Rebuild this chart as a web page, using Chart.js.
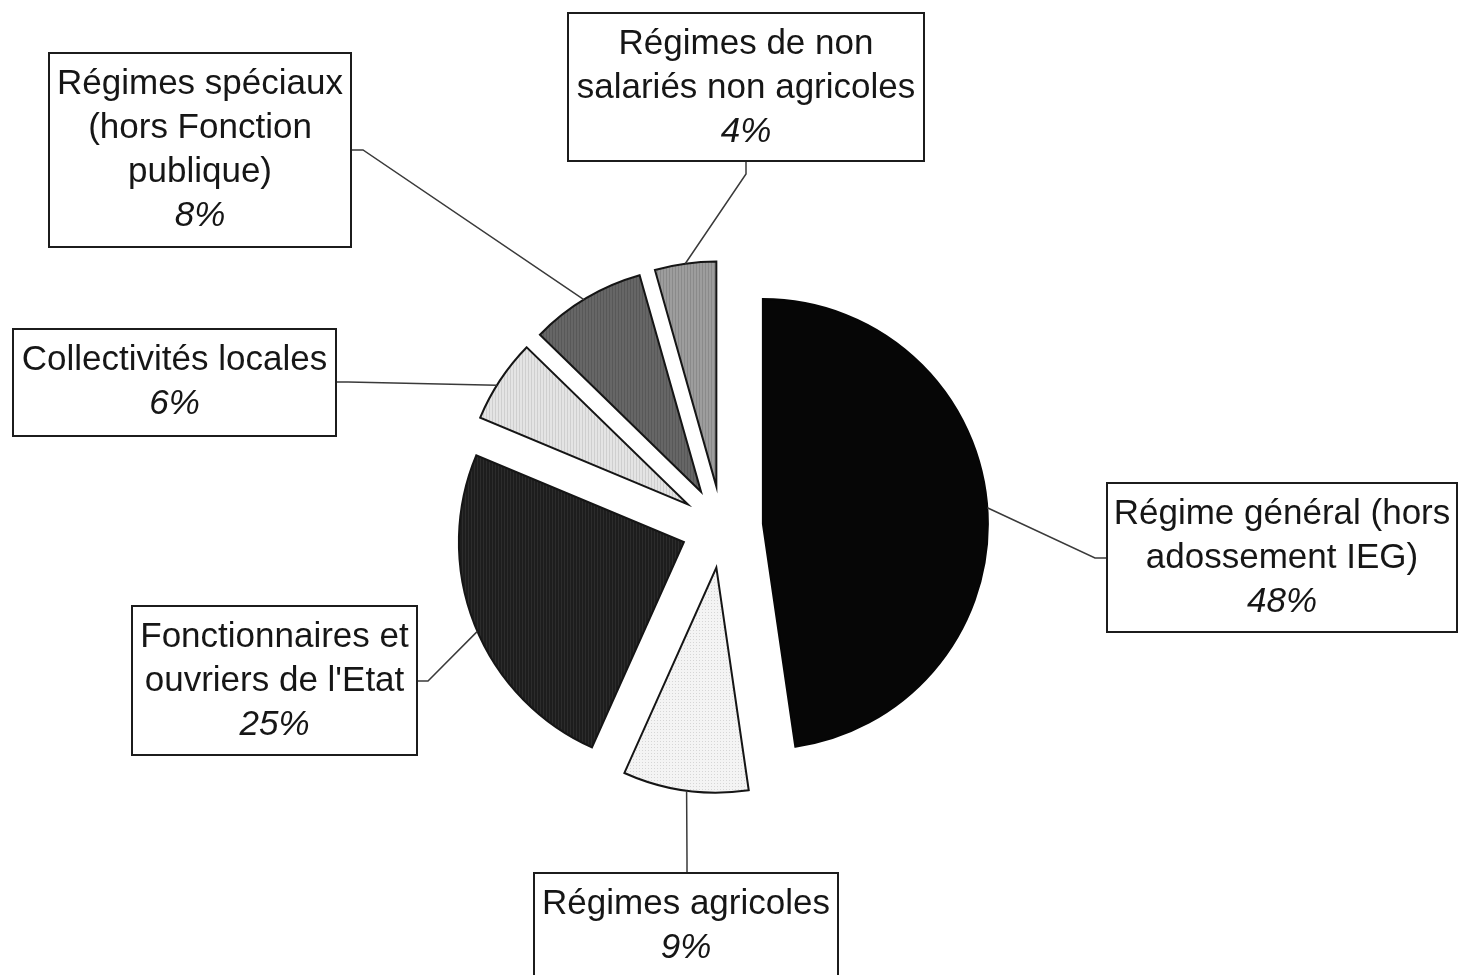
<!DOCTYPE html>
<html>
<head>
<meta charset="utf-8">
<script src="https://cdn.jsdelivr.net/npm/chart.js@4.4.0/dist/chart.umd.min.js"></script>
<style>
  html, body { margin: 0; background: #fff; }
  #wrap { width: 1458px; height: 975px; }
</style>
</head>
<body>
<div id="wrap"><canvas id="pieChart"></canvas></div>
<script>
// données (sens horaire depuis midi)
const categories = [
  'Régime général (hors adossement IEG)',
  'Régimes agricoles',
  "Fonctionnaires et ouvriers de l'Etat",
  'Collectivités locales',
  'Régimes spéciaux (hors Fonction publique)',
  'Régimes de non salariés non agricoles'
];
// angles mesurés sur les parts
const shares = [47.7, 9.0, 24.6, 6.0, 8.3, 4.4];
const shareLabels = ['48%', '9%', '25%', '6%', '8%', '4%'];
// découpage des libellés dans les encadrés
const labelLines = [
  ['Régime général (hors', 'adossement IEG)'],
  ['Régimes agricoles'],
  ['Fonctionnaires et', "ouvriers de l'Etat"],
  ['Collectivités locales'],
  ['Régimes spéciaux', '(hors Fonction', 'publique)'],
  ['Régimes de non', 'salariés non agricoles']
];

// mise en page des encadrés et des traits de rappel
const EXPLODE = 41;
const labelLayout = [
  { box: [1107, 483, 350, 149], attach: [1107, 558], elbow: [1095, 558], frac: 0.5 },
  { box: [534, 873, 304, 120], attach: [687, 873], elbow: [687, 860], frac: 0.49 },
  { box: [132, 606, 285, 149], attach: [417, 681], elbow: [428, 681], frac: 0.48 },
  { box: [13, 329, 323, 107], attach: [336, 382], elbow: [348, 382], frac: 0.43 },
  { box: [49, 53, 302, 194], attach: [351, 150], elbow: [363, 150], frac: 0.48 },
  { box: [568, 13, 356, 148], attach: [746, 161], elbow: [746, 174], frac: 0.5 }
];

const canvas = document.getElementById('pieChart');
const ctx = canvas.getContext('2d');

// petites trames (rayures verticales / points)
function stripes(base, line) {
  const c = document.createElement('canvas');
  c.width = 3; c.height = 3;
  const g = c.getContext('2d');
  g.fillStyle = base; g.fillRect(0, 0, 3, 3);
  g.fillStyle = line; g.fillRect(0, 0, 1, 3);
  return ctx.createPattern(c, 'repeat');
}
function dots(base, dot) {
  const c = document.createElement('canvas');
  c.width = 3; c.height = 3;
  const g = c.getContext('2d');
  g.fillStyle = base; g.fillRect(0, 0, 3, 3);
  g.fillStyle = dot; g.fillRect(0, 0, 1, 1);
  return ctx.createPattern(c, 'repeat');
}

const fills = [
  '#060606',
  dots('#f4f4f4', '#d6d6d6'),
  stripes('#1d1d1d', '#2c2c2c'),
  stripes('#e4e4e4', '#cfcfcf'),
  stripes('#666666', '#585858'),
  stripes('#9d9d9d', '#8a8a8a')
];
const borders = ['#060606', '#151515', '#151515', '#151515', '#151515', '#151515'];

// camembert éclaté : chaque part décalée le long de sa bissectrice
const explodedPie = {
  id: 'explodedPie',
  beforeDatasetDraw(chart, args) {
    const c = chart.ctx;
    args.meta.data.forEach((arc) => {
      const p = arc.getProps(['x', 'y', 'startAngle', 'endAngle', 'outerRadius'], true);
      const mid = (p.startAngle + p.endAngle) / 2;
      const cx = p.x + Math.cos(mid) * EXPLODE;
      const cy = p.y + Math.sin(mid) * EXPLODE;
      c.save();
      c.beginPath();
      c.moveTo(cx, cy);
      c.arc(cx, cy, p.outerRadius, p.startAngle, p.endAngle);
      c.closePath();
      c.fillStyle = arc.options.backgroundColor;
      c.fill();
      c.lineWidth = arc.options.borderWidth;
      c.strokeStyle = arc.options.borderColor;
      c.lineJoin = 'miter';
      c.stroke();
      c.restore();
    });
    return false;
  },
  afterDraw(chart) {
    const c = chart.ctx;
    const arcs = chart.getDatasetMeta(0).data;
    c.save();
    // traits de rappel
    arcs.forEach((arc, i) => {
      const L = labelLayout[i];
      const p = arc.getProps(['x', 'y', 'startAngle', 'endAngle', 'outerRadius'], true);
      const mid = (p.startAngle + p.endAngle) / 2;
      const a = p.startAngle + (p.endAngle - p.startAngle) * L.frac;
      const cx = p.x + Math.cos(mid) * EXPLODE;
      const cy = p.y + Math.sin(mid) * EXPLODE;
      const tx = cx + Math.cos(a) * p.outerRadius;
      const ty = cy + Math.sin(a) * p.outerRadius;
      c.beginPath();
      c.moveTo(L.attach[0], L.attach[1]);
      c.lineTo(L.elbow[0], L.elbow[1]);
      c.lineTo(tx, ty);
      c.strokeStyle = '#3a3a3a';
      c.lineWidth = 1.5;
      c.stroke();
    });
    // encadrés
    arcs.forEach((arc, i) => {
      const [bx, by, bw, bh] = labelLayout[i].box;
      c.fillStyle = '#fff';
      c.fillRect(bx, by, bw, bh);
      c.strokeStyle = '#1c1c1c';
      c.lineWidth = 2;
      c.strokeRect(bx, by, bw, bh);
      const lines = labelLines[i].concat([shareLabels[i]]);
      c.fillStyle = '#161616';
      c.textAlign = 'center';
      c.textBaseline = 'middle';
      lines.forEach((t, k) => {
        const last = k === lines.length - 1;
        c.font = (last ? 'italic ' : '') + "35px 'Liberation Sans', Arial, sans-serif";
        c.fillText(t, bx + bw / 2, by + 31 + k * 44);
      });
    });
    c.restore();
  }
};

const chart = new Chart(ctx, {
  type: 'pie',
  data: {
    labels: categories,
    datasets: [{
      data: shares,
      backgroundColor: fills,
      borderColor: borders,
      borderWidth: 2
    }]
  },
  options: {
    responsive: true,
    maintainAspectRatio: false,
    animation: false,
    radius: 225,
    layout: { padding: { left: 0, right: 14, top: 79, bottom: 0 } },
    plugins: {
      legend: { display: false },
      tooltip: { enabled: false }
    }
  },
  plugins: [explodedPie]
});
</script>
</body>
</html>
